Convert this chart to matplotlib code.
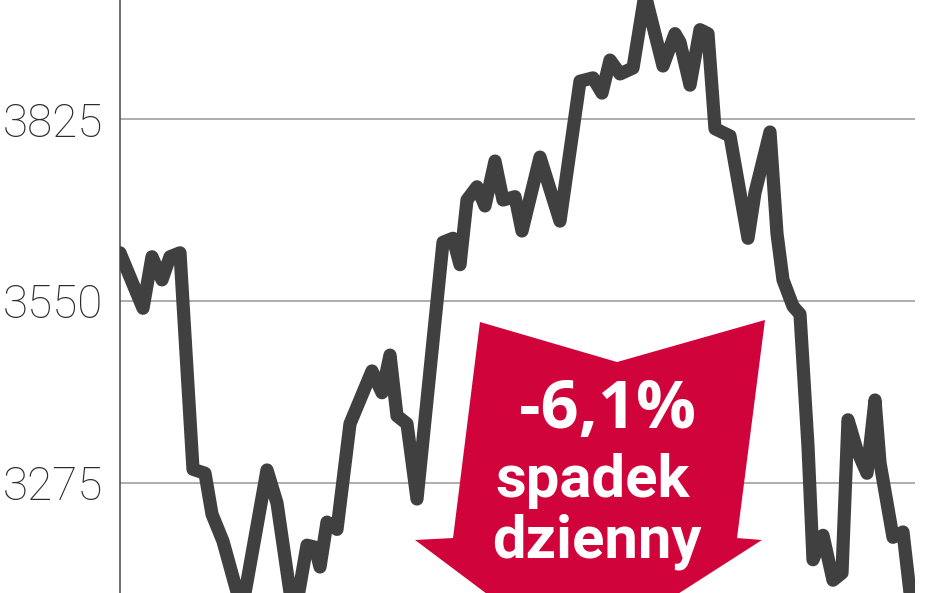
import matplotlib
matplotlib.use('Agg')
import matplotlib.pyplot as plt
from matplotlib.patches import Polygon

# trading day index and index value
days = [0, 4.6, 6.4, 8.4, 10, 12, 14.6, 17, 18.4, 20.6, 24.4, 29.4, 31.4,
        34.8, 37.4, 39, 40, 41.4, 43.4, 46, 50.4, 52.4, 54, 55.4, 57.4,
        59.4, 64.6, 66.6, 68, 69.4, 71.4, 73, 75, 76.6, 79, 80.4, 84, 88,
        92, 94.6, 96.4, 98, 100, 102.6, 105, 108.6, 111, 112, 114, 116,
        117.6, 119, 122, 125.6, 127, 130, 131.4, 132.6, 134.6, 136, 137.6,
        138.6, 140.6, 142.6, 144.4, 145.6, 147.4, 149.4, 151, 152, 154.6,
        156.6, 158.4]
values = [3623, 3539, 3617, 3582, 3617, 3623, 3295, 3289, 3227, 3186, 3082,
          3294, 3244, 3067, 3180, 3177, 3147, 3215, 3204, 3364, 3444, 3411,
          3468, 3376, 3364, 3250, 3639, 3645, 3605, 3703, 3723, 3694, 3762,
          3703, 3708, 3656, 3768, 3671, 3883, 3888, 3865, 3915, 3894, 3903,
          4015, 3906, 3955, 3942, 3877, 3961, 3955, 3811, 3800, 3645, 3714,
          3806, 3652, 3582, 3542, 3530, 3330, 3158, 3195, 3127, 3138, 3370,
          3324, 3289, 3400, 3305, 3192, 3200, 3082]
yticks = [3275, 3550, 3825]
callout = ['-6,1%', 'spadek', 'dzienny']

fig = plt.figure(figsize=(9.48, 5.93), dpi=100)
ax = fig.add_axes([120 / 948, 0, 795 / 948, 1])

# red arrow behind the line (axes fraction)
arrow = Polygon([(0.4528, 0.4570), (0.6252, 0.3895), (0.8113, 0.4604),
                 (0.7761, 0.0927), (0.8075, 0.0894), (0.5723, -0.113),
                 (0.3711, 0.0894), (0.4189, 0.0927)],
                closed=True, transform=ax.transAxes, facecolor='#d0043a',
                edgecolor='none', zorder=1)
ax.add_patch(arrow)

ax.plot(days, values, color='#404040', lw=9.5, solid_joinstyle='round',
        solid_capstyle='round', zorder=3)

ax.set_xlim(0, 159)
ax.set_ylim(3107.6, 4006)
ax.set_yticks(yticks)
ax.set_yticklabels([str(t) for t in yticks], fontfamily='Roboto',
                   fontweight='light', fontsize=33, color='#2b2b2b')
ax.tick_params(axis='y', length=0, pad=12)
ax.set_xticks([])
ax.grid(axis='y', color='#a0a0a0', lw=1.2, zorder=0)
ax.set_axisbelow(True)
for s in ['top', 'right', 'bottom']:
    ax.spines[s].set_visible(False)
ax.spines['left'].set_color('#555555')
ax.spines['left'].set_linewidth(1.2)

ax.text(0.6126, 0.2782, callout[0], transform=ax.transAxes, ha='center',
        va='baseline', fontsize=48, fontweight='bold', family='Open Sans',
        color='white', zorder=2)
ax.text(0.595, 0.1619, callout[1], transform=ax.transAxes, ha='center',
        va='baseline', fontsize=43, fontweight='bold', family='Roboto',
        color='white', zorder=2)
ax.text(0.600, 0.0607, callout[2], transform=ax.transAxes, ha='center',
        va='baseline', fontsize=43, fontweight='bold', family='Roboto',
        color='white', zorder=2)

fig.savefig('out.png', dpi=100)
